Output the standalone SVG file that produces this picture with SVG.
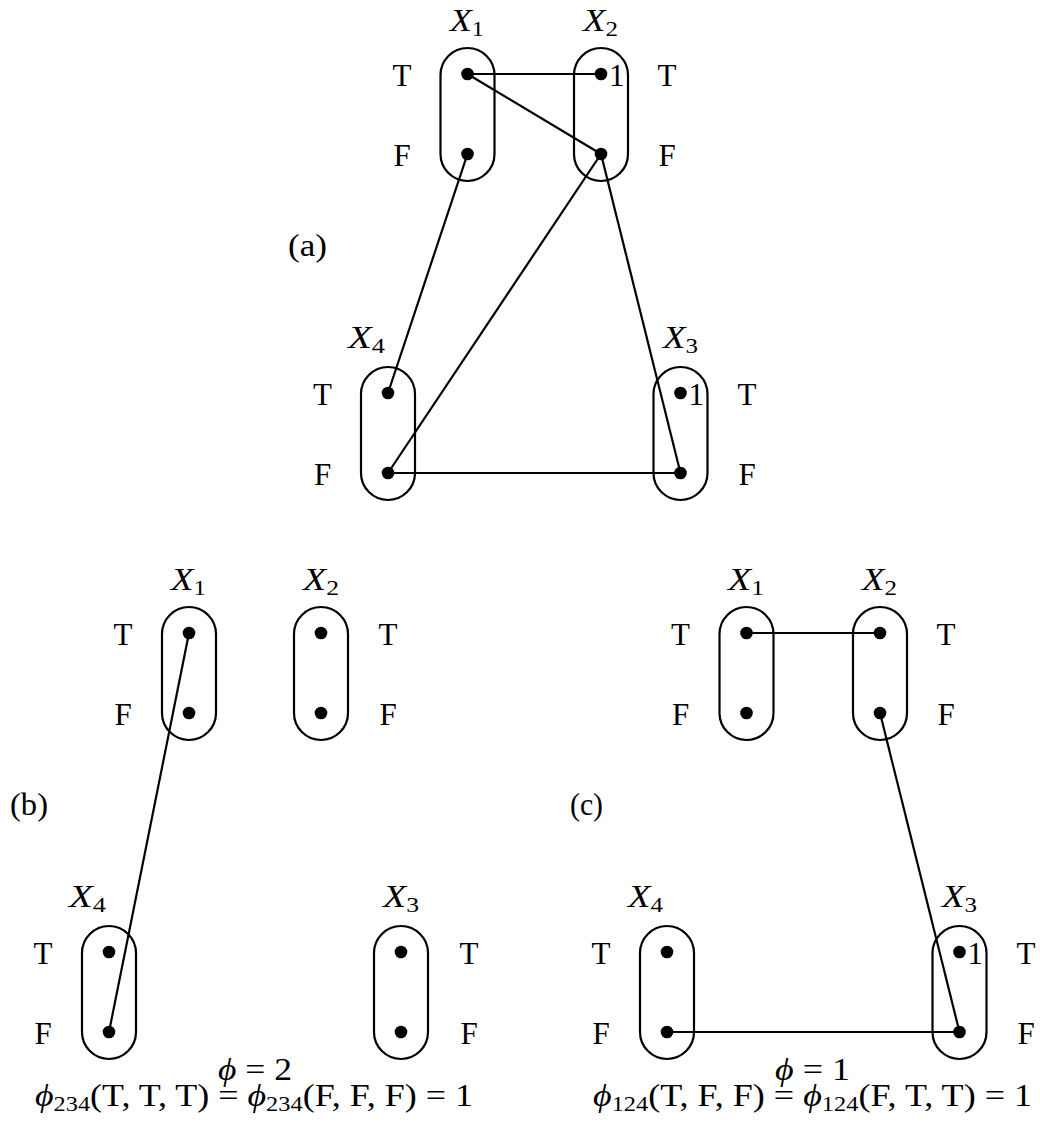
<svg xmlns="http://www.w3.org/2000/svg" width="1040" height="1126" viewBox="0 0 1040 1126">
<style>
text{font-family:"Liberation Serif","DejaVu Serif",serif;font-size:31px;fill:#000}
.tf{text-anchor:middle}
.v{font-style:italic}
.sub{font-style:normal;font-size:21px}
.cap{fill:none;stroke:#000;stroke-width:2.2}
.dot{fill:#000}
.e{stroke:#000;stroke-width:2.2;fill:none}
</style>
<rect width="1040" height="1126" fill="#fff"/>
<g id="connectors">
<line class="e" x1="467.5" y1="74" x2="601" y2="74"/>
<line class="e" x1="467.5" y1="74" x2="601" y2="154"/>
<line class="e" x1="467.5" y1="154" x2="388" y2="393"/>
<line class="e" x1="601" y1="154" x2="388" y2="473"/>
<line class="e" x1="601" y1="154" x2="680.5" y2="473"/>
<line class="e" x1="388" y1="473" x2="680.5" y2="473"/>
<line class="e" x1="189" y1="633" x2="109" y2="1032"/>
<line class="e" x1="746.5" y1="633" x2="880" y2="633"/>
<line class="e" x1="880" y1="713" x2="959.5" y2="1032"/>
<line class="e" x1="667" y1="1032" x2="959.5" y2="1032"/>
</g>
<g id="a-X1">
<rect class="cap" x="440.5" y="48" width="54" height="133" rx="27"/>
<circle class="dot" cx="467.5" cy="74" r="6.3"/><circle class="dot" cx="467.5" cy="154" r="6.3"/>
<text class="v" x="450" y="31" textLength="34" lengthAdjust="spacingAndGlyphs">X<tspan class="sub" dy="5">1</tspan></text>
<text class="tf" x="402" y="86">T</text><text class="tf" x="402" y="166">F</text>
</g>
<g id="a-X2">
<rect class="cap" x="574" y="48" width="54" height="133" rx="27"/>
<circle class="dot" cx="601" cy="74" r="6.3"/><circle class="dot" cx="601" cy="154" r="6.3"/>
<text x="609" y="86">1</text>
<text class="v" x="583" y="31" textLength="35" lengthAdjust="spacingAndGlyphs">X<tspan class="sub" dy="5">2</tspan></text>
<text class="tf" x="667" y="86">T</text><text class="tf" x="667" y="166">F</text>
</g>
<g id="a-X4">
<rect class="cap" x="361" y="367" width="54" height="133" rx="27"/>
<circle class="dot" cx="388" cy="393" r="6.3"/><circle class="dot" cx="388" cy="473" r="6.3"/>
<text class="v" x="348" y="348" textLength="37" lengthAdjust="spacingAndGlyphs">X<tspan class="sub" dy="5">4</tspan></text>
<text class="tf" x="322.5" y="405">T</text><text class="tf" x="322.5" y="485">F</text>
</g>
<g id="a-X3">
<rect class="cap" x="653.5" y="367" width="54" height="133" rx="27"/>
<circle class="dot" cx="680.5" cy="393" r="6.3"/><circle class="dot" cx="680.5" cy="473" r="6.3"/>
<text x="688.5" y="405">1</text>
<text class="v" x="663" y="348" textLength="35" lengthAdjust="spacingAndGlyphs">X<tspan class="sub" dy="5">3</tspan></text>
<text class="tf" x="747" y="405">T</text><text class="tf" x="747" y="485">F</text>
</g>
<text x="288" y="256" textLength="39" lengthAdjust="spacingAndGlyphs">(a)</text>
<g id="b-X1">
<rect class="cap" x="162" y="607" width="54" height="133" rx="27"/>
<circle class="dot" cx="189" cy="633" r="6.3"/><circle class="dot" cx="189" cy="713" r="6.3"/>
<text class="v" x="171" y="590" textLength="35" lengthAdjust="spacingAndGlyphs">X<tspan class="sub" dy="5">1</tspan></text>
<text class="tf" x="123" y="645">T</text><text class="tf" x="123" y="725">F</text>
</g>
<g id="b-X2">
<rect class="cap" x="294" y="607" width="54" height="133" rx="27"/>
<circle class="dot" cx="321" cy="633" r="6.3"/><circle class="dot" cx="321" cy="713" r="6.3"/>
<text class="v" x="303" y="590" textLength="36" lengthAdjust="spacingAndGlyphs">X<tspan class="sub" dy="5">2</tspan></text>
<text class="tf" x="388" y="645">T</text><text class="tf" x="388" y="725">F</text>
</g>
<g id="b-X4">
<rect class="cap" x="82" y="926" width="54" height="133" rx="27"/>
<circle class="dot" cx="109" cy="952" r="6.3"/><circle class="dot" cx="109" cy="1032" r="6.3"/>
<text class="v" x="69" y="907" textLength="37" lengthAdjust="spacingAndGlyphs">X<tspan class="sub" dy="5">4</tspan></text>
<text class="tf" x="43" y="964">T</text><text class="tf" x="43" y="1044">F</text>
</g>
<g id="b-X3">
<rect class="cap" x="374" y="926" width="54" height="133" rx="27"/>
<circle class="dot" cx="401" cy="952" r="6.3"/><circle class="dot" cx="401" cy="1032" r="6.3"/>
<text class="v" x="383" y="907" textLength="36" lengthAdjust="spacingAndGlyphs">X<tspan class="sub" dy="5">3</tspan></text>
<text class="tf" x="469" y="964">T</text><text class="tf" x="469" y="1044">F</text>
</g>
<text x="10" y="815" textLength="38" lengthAdjust="spacingAndGlyphs">(b)</text>
<text x="218" y="1080" textLength="74" lengthAdjust="spacingAndGlyphs"><tspan class="v">ϕ</tspan> = 2</text>
<text x="35" y="1106" textLength="438" lengthAdjust="spacingAndGlyphs"><tspan class="v">ϕ</tspan><tspan class="sub" dy="5">234</tspan><tspan dy="-5">(T, T, T) = </tspan><tspan class="v">ϕ</tspan><tspan class="sub" dy="5">234</tspan><tspan dy="-5">(F, F, F) = 1</tspan></text>
<g id="c-X1">
<rect class="cap" x="719.5" y="607" width="54" height="133" rx="27"/>
<circle class="dot" cx="746.5" cy="633" r="6.3"/><circle class="dot" cx="746.5" cy="713" r="6.3"/>
<text class="v" x="728" y="590" textLength="36" lengthAdjust="spacingAndGlyphs">X<tspan class="sub" dy="5">1</tspan></text>
<text class="tf" x="680.5" y="645">T</text><text class="tf" x="680.5" y="725">F</text>
</g>
<g id="c-X2">
<rect class="cap" x="853" y="607" width="54" height="133" rx="27"/>
<circle class="dot" cx="880" cy="633" r="6.3"/><circle class="dot" cx="880" cy="713" r="6.3"/>
<text class="v" x="862" y="590" textLength="35" lengthAdjust="spacingAndGlyphs">X<tspan class="sub" dy="5">2</tspan></text>
<text class="tf" x="946" y="645">T</text><text class="tf" x="946" y="725">F</text>
</g>
<g id="c-X4">
<rect class="cap" x="640" y="926" width="54" height="133" rx="27"/>
<circle class="dot" cx="667" cy="952" r="6.3"/><circle class="dot" cx="667" cy="1032" r="6.3"/>
<text class="v" x="628" y="907" textLength="35" lengthAdjust="spacingAndGlyphs">X<tspan class="sub" dy="5">4</tspan></text>
<text class="tf" x="601" y="964">T</text><text class="tf" x="601" y="1044">F</text>
</g>
<g id="c-X3">
<rect class="cap" x="932.5" y="926" width="54" height="133" rx="27"/>
<circle class="dot" cx="959.5" cy="952" r="6.3"/><circle class="dot" cx="959.5" cy="1032" r="6.3"/>
<text x="967.5" y="964">1</text>
<text class="v" x="942" y="907" textLength="35" lengthAdjust="spacingAndGlyphs">X<tspan class="sub" dy="5">3</tspan></text>
<text class="tf" x="1026" y="964">T</text><text class="tf" x="1026" y="1044">F</text>
</g>
<text x="570" y="815" textLength="33" lengthAdjust="spacingAndGlyphs">(c)</text>
<text x="775" y="1080" textLength="75" lengthAdjust="spacingAndGlyphs"><tspan class="v">ϕ</tspan> = 1</text>
<text x="593" y="1106" textLength="439" lengthAdjust="spacingAndGlyphs"><tspan class="v">ϕ</tspan><tspan class="sub" dy="5">124</tspan><tspan dy="-5">(T, F, F) = </tspan><tspan class="v">ϕ</tspan><tspan class="sub" dy="5">124</tspan><tspan dy="-5">(F, T, T) = 1</tspan></text>
</svg>
